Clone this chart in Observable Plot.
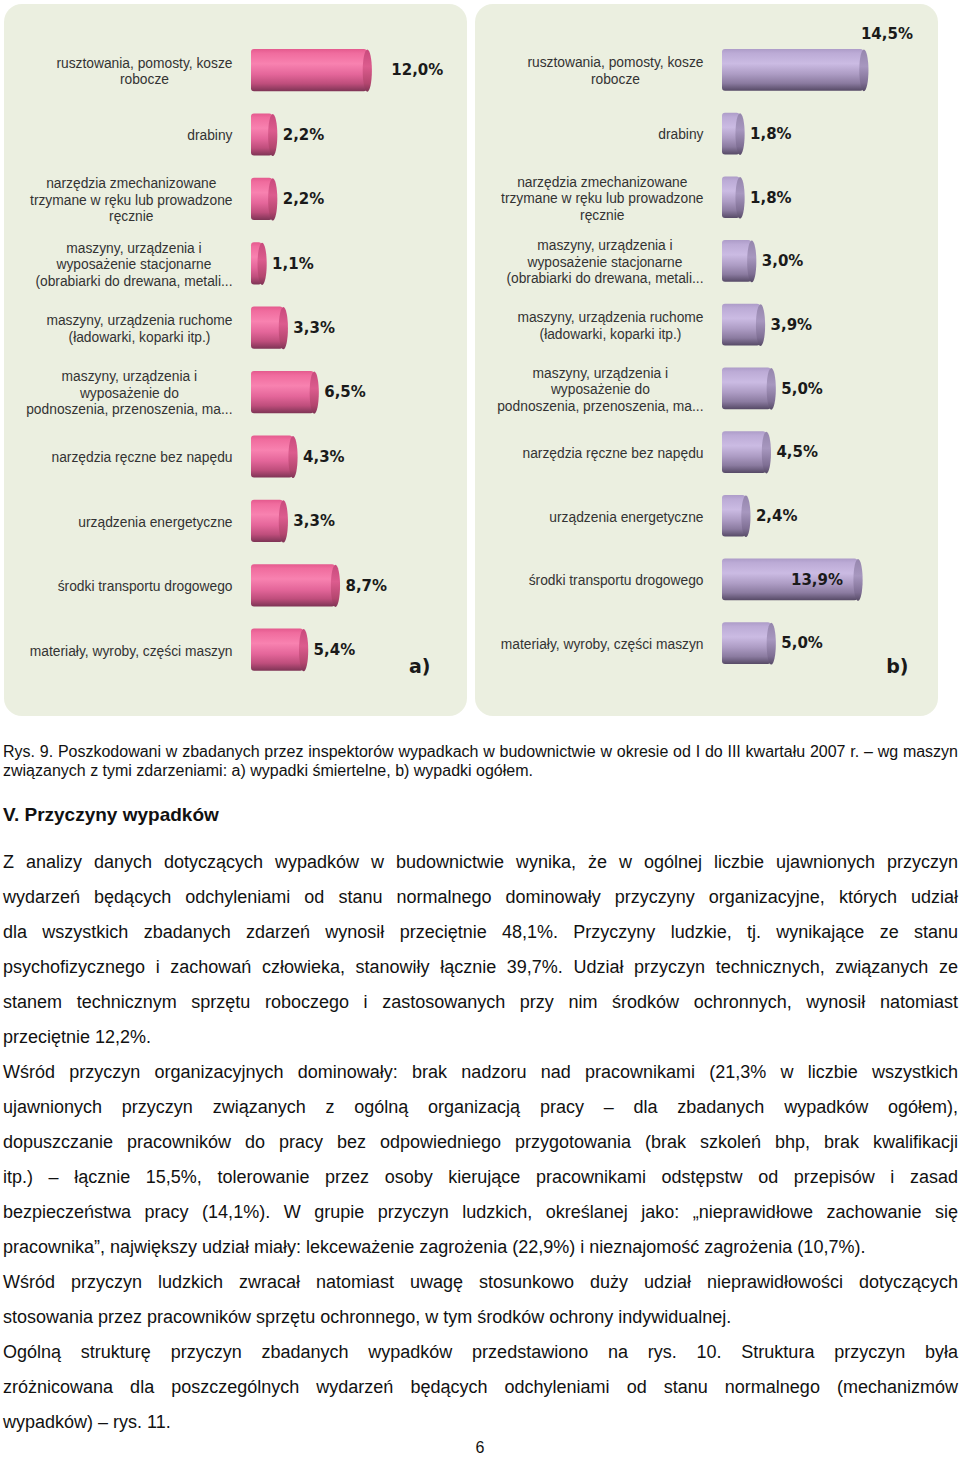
<!DOCTYPE html>
<html>
<head>
<meta charset="utf-8">
<script src="https://cdn.jsdelivr.net/npm/d3@7"></script>
<script src="https://cdn.jsdelivr.net/npm/@observablehq/plot@0.6"></script>
<style>
  html, body { margin: 0; padding: 0; background: #fff; }
  body { width: 960px; height: 1458px; position: relative; overflow: hidden; }
  .panel { position: absolute; top: 4px; height: 712px; width: 463px; background: #ebefe0; border-radius: 18px; overflow: hidden; }
  #pa { left: 4px; }
  #pb { left: 475px; }
  .txt { position: absolute; left: 3px; width: 955px; font-family: "Liberation Sans", Arial, sans-serif; color: #111; }
  .txt div { text-align: justify; text-align-last: justify; }
  .txt div.last { text-align-last: left; }
  #caption { top: 742px; font-size: 16px; line-height: 19px; }
  #heading { top: 803px; font-size: 19px; line-height: 24px; font-weight: bold; }
  #body { top: 845px; font-size: 18px; line-height: 35px; }
  #pagenum { position: absolute; top: 1438px; left: 0; width: 960px; text-align: center; font-family: "Liberation Sans", Arial, sans-serif; font-size: 16px; line-height: 20px; color: #111; }
</style>
</head>
<body>
<svg width="0" height="0" style="position:absolute;left:0;top:0">
  <defs>
    <linearGradient id="bodyPink" x1="0" y1="0" x2="0" y2="1">
      <stop offset="0" stop-color="#e45a8e"/>
      <stop offset="0.1" stop-color="#f06c9e"/>
      <stop offset="0.35" stop-color="#f882b0"/>
      <stop offset="0.6" stop-color="#e4669a"/>
      <stop offset="0.82" stop-color="#bf4e7c"/>
      <stop offset="1" stop-color="#7e3455"/>
    </linearGradient>
    <linearGradient id="capPink" x1="0" y1="0" x2="0" y2="1">
      <stop offset="0" stop-color="#c84a7c"/>
      <stop offset="0.4" stop-color="#dc5c8e"/>
      <stop offset="0.8" stop-color="#b4466f"/>
      <stop offset="1" stop-color="#7e3455"/>
    </linearGradient>
    <linearGradient id="bodyPurple" x1="0" y1="0" x2="0" y2="1">
      <stop offset="0" stop-color="#ad9cc8"/>
      <stop offset="0.1" stop-color="#bcabd6"/>
      <stop offset="0.35" stop-color="#cbbbe3"/>
      <stop offset="0.6" stop-color="#ad9cc4"/>
      <stop offset="0.82" stop-color="#8b7ba0"/>
      <stop offset="1" stop-color="#564a66"/>
    </linearGradient>
    <linearGradient id="capPurple" x1="0" y1="0" x2="0" y2="1">
      <stop offset="0" stop-color="#9586ad"/>
      <stop offset="0.4" stop-color="#a797bf"/>
      <stop offset="0.8" stop-color="#7f6f94"/>
      <stop offset="1" stop-color="#564a66"/>
    </linearGradient>
  </defs>
</svg>

<div class="panel" id="pa"></div>
<div class="panel" id="pb"></div>

<div class="txt" id="caption"></div>
<div class="txt" id="heading"></div>
<div class="txt" id="body"></div>
<div id="pagenum"></div>

<script>
// ---------- DATA ----------
const categories = [
  "rusztowania, pomosty, kosze\nrobocze",
  "drabiny",
  "narzędzia zmechanizowane\ntrzymane w ręku lub prowadzone\nręcznie",
  "maszyny, urządzenia i\nwyposażenie stacjonarne\n(obrabiarki do drewana, metali...",
  "maszyny, urządzenia ruchome\n(ładowarki, koparki itp.)",
  "maszyny, urządzenia i\nwyposażenie do\npodnoszenia, przenoszenia, ma...",
  "narzędzia ręczne bez napędu",
  "urządzenia energetyczne",
  "środki transportu drogowego",
  "materiały, wyroby, części maszyn"
];
const valuesA = [12.0, 2.2, 2.2, 1.1, 3.3, 6.5, 4.3, 3.3, 8.7, 5.4]; // a) wypadki śmiertelne
const valuesB = [14.5, 1.8, 1.8, 3.0, 3.9, 5.0, 4.5, 2.4, 13.9, 5.0]; // b) wypadki ogółem
const panelLabels = ["a)", "b)"];

const captionLines = [
  "Rys. 9. Poszkodowani w zbadanych przez inspektorów wypadkach w budownictwie w okresie od I do III kwartału 2007 r. – wg maszyn",
  "związanych z tymi zdarzeniami: a) wypadki śmiertelne, b) wypadki ogółem."
];
const headingText = "V. Przyczyny wypadków";
const paragraphs = [
  [
    "Z analizy danych dotyczących wypadków w budownictwie wynika, że w ogólnej liczbie ujawnionych przyczyn",
    "wydarzeń będących odchyleniami od stanu normalnego dominowały przyczyny organizacyjne, których udział",
    "dla wszystkich zbadanych zdarzeń wynosił przeciętnie 48,1%. Przyczyny ludzkie, tj. wynikające ze stanu",
    "psychofizycznego i zachowań człowieka, stanowiły łącznie 39,7%. Udział przyczyn technicznych, związanych ze",
    "stanem technicznym sprzętu roboczego i zastosowanych przy nim środków ochronnych, wynosił natomiast",
    "przeciętnie 12,2%."
  ],
  [
    "Wśród przyczyn organizacyjnych dominowały: brak nadzoru nad pracownikami (21,3% w liczbie wszystkich",
    "ujawnionych przyczyn związanych z ogólną organizacją pracy – dla zbadanych wypadków ogółem),",
    "dopuszczanie pracowników do pracy bez odpowiedniego przygotowania (brak szkoleń bhp, brak kwalifikacji",
    "itp.) – łącznie 15,5%, tolerowanie przez osoby kierujące pracownikami odstępstw od przepisów i zasad",
    "bezpieczeństwa pracy (14,1%). W grupie przyczyn ludzkich, określanej jako: „nieprawidłowe zachowanie się",
    "pracownika”, największy udział miały: lekceważenie zagrożenia (22,9%) i nieznajomość zagrożenia (10,7%)."
  ],
  [
    "Wśród przyczyn ludzkich zwracał natomiast uwagę stosunkowo duży udział nieprawidłowości dotyczących",
    "stosowania przez pracowników sprzętu ochronnego, w tym środków ochrony indywidualnej."
  ],
  [
    "Ogólną strukturę przyczyn zbadanych wypadków przedstawiono na rys. 10. Struktura przyczyn była",
    "zróżnicowana dla poszczególnych wydarzeń będących odchyleniami od stanu normalnego (mechanizmów",
    "wypadków) – rys. 11."
  ]
];
const pageNumber = "6";

// ---------- CHARTS ----------
const fmt = v => v.toFixed(1).replace(".", ",") + "%";

function capSymbol(rx, ry) {
  return {
    draw(ctx) {
      const k = 0.5523;
      ctx.moveTo(rx, 0);
      ctx.bezierCurveTo(rx, ry * k, rx * k, ry, 0, ry);
      ctx.bezierCurveTo(-rx * k, ry, -rx, ry * k, -rx, 0);
      ctx.bezierCurveTo(-rx, -ry * k, -rx * k, -ry, 0, -ry);
      ctx.bezierCurveTo(rx * k, -ry, rx, -ry * k, rx, 0);
      ctx.closePath();
    }
  };
}

const labelStyle = {fontSize: 15, fontWeight: "bold", fontFamily: "DejaVu Sans, Verdana, sans-serif", fill: "#1a1a1a"};

function panel(values, cfg) {
  const data = categories.map((c, i) => ({c, v: values[i], i}));
  const step = cfg.step;
  const pI = 0.345;
  const r0 = 45;
  const r1 = r0 + step * (categories.length - pI);
  const ry = step * (1 - pI) / 2;
  return Plot.plot({
    width: 463,
    height: 712,
    margin: 0,
    style: {background: "transparent", overflow: "visible"},
    x: {domain: [0, 20], range: [247, 247 + 20 * cfg.k], axis: null},
    y: {domain: categories, range: [r0, r1], paddingInner: pI, paddingOuter: 0, round: false, axis: null},
    marks: [
      Plot.barX(data, {x: "v", y: "c", fill: cfg.body, rx: 3}),
      Plot.dot(data, {x: "v", y: "c", symbol: capSymbol(4.6, ry), r: 5, fill: cfg.cap, stroke: "none"}),
      Plot.text(data, {
        x: 0, y: "c", text: "c", textAnchor: "end", dx: -19, lineAnchor: "middle",
        lineHeight: 1.2, fontSize: 13.8, fontFamily: "Liberation Sans, Arial, sans-serif", fill: "#333"
      }),
      Plot.text(data.filter(cfg.normal), {
        x: "v", y: "c", text: d => fmt(d.v), textAnchor: "start", dx: 10, ...labelStyle
      }),
      ...cfg.special(data),
      Plot.text([cfg.tag], {
        frameAnchor: "bottom-right", text: d => d, textAnchor: "end", lineAnchor: "middle",
        dx: cfg.tagDx, dy: -50, fontSize: 19, fontWeight: "bold",
        fontFamily: "DejaVu Sans, Verdana, sans-serif", fill: "#1a1a1a"
      })
    ]
  });
}

// multi-line category labels: block right-aligned, lines centred within the block
function centerBlocks(svg) {
  d3.select(svg).selectAll("text").each(function () {
    const tspans = Array.from(this.querySelectorAll("tspan"));
    if (tspans.length < 2) return;
    const W = Math.max(...tspans.map(t => t.getComputedTextLength()));
    this.setAttribute("text-anchor", "middle");
    tspans.forEach(t => t.setAttribute("x", (-W / 2).toFixed(2)));
  });
}

const svgA = panel(valuesA, {
  step: 64.4, k: 9.65, body: "url(#bodyPink)", cap: "url(#capPink)", tag: panelLabels[0], tagDx: -37,
  normal: d => d.i !== 0,
  special: data => [
    Plot.text(data.filter(d => d.i === 0), {x: "v", y: "c", text: d => fmt(d.v), textAnchor: "start", dx: 24, ...labelStyle})
  ]
});
document.getElementById("pa").append(svgA);
centerBlocks(svgA);

const svgB = panel(valuesB, {
  step: 63.7, k: 9.75, body: "url(#bodyPurple)", cap: "url(#capPurple)", tag: panelLabels[1], tagDx: -30,
  normal: d => d.i !== 0 && d.i !== 8,
  special: data => [
    Plot.text(data.filter(d => d.i === 0), {x: "v", y: "c", text: d => fmt(d.v), textAnchor: "start", dx: -3, dy: -36, ...labelStyle}),
    Plot.text(data.filter(d => d.i === 8), {x: "v", y: "c", text: d => fmt(d.v), textAnchor: "end", dx: -15, ...labelStyle})
  ]
});
document.getElementById("pb").append(svgB);
centerBlocks(svgB);

// ---------- TEXT ----------
const cap = document.getElementById("caption");
captionLines.forEach((t, i) => {
  const d = document.createElement("div");
  d.textContent = t;
  if (i === captionLines.length - 1) d.className = "last";
  cap.append(d);
});
const h = document.getElementById("heading");
const hd = document.createElement("div");
hd.className = "last";
hd.textContent = headingText;
h.append(hd);
const body = document.getElementById("body");
paragraphs.forEach(p => p.forEach((t, i) => {
  const d = document.createElement("div");
  d.textContent = t;
  if (i === p.length - 1) d.className = "last";
  body.append(d);
}));
document.getElementById("pagenum").textContent = pageNumber;
</script>
</body>
</html>
